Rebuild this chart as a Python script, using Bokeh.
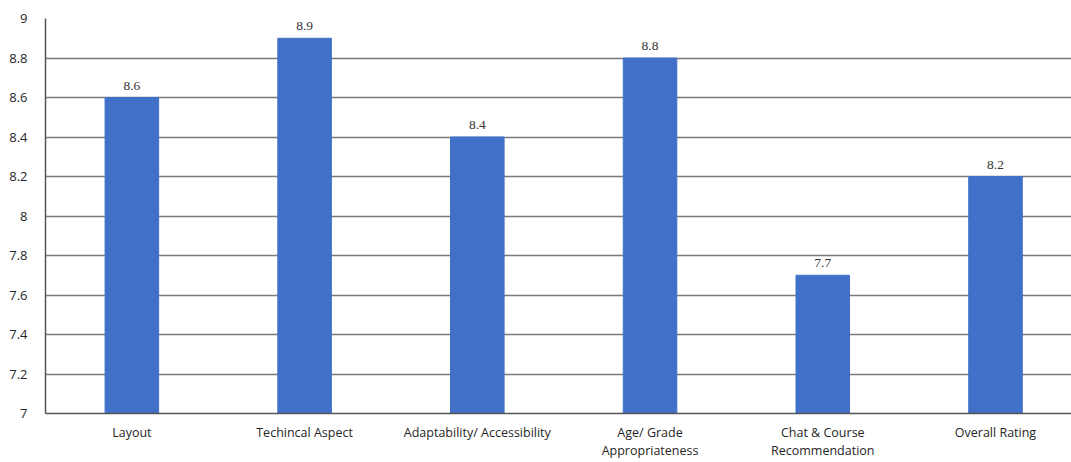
from bokeh.plotting import figure
from bokeh.models import Range1d, FixedTicker, ColumnDataSource, LabelSet
from bokeh.embed import file_html
from bokeh.resources import INLINE

categories = ["Layout", "Techincal Aspect", "Adaptability/ Accessibility",
              "Age/ Grade\nAppropriateness", "Chat & Course\nRecommendation", "Overall Rating"]
values = [8.6, 8.9, 8.4, 8.8, 7.7, 8.2]
y_ticks = [7, 7.2, 7.4, 7.6, 7.8, 8, 8.2, 8.4, 8.6, 8.8, 9]

xs = [i + 0.5 for i in range(len(categories))]
src = ColumnDataSource(dict(x=xs, top=values, lab=[str(v) for v in values]))

p = figure(width=1071, height=462, output_backend="svg", toolbar_location=None,
           x_range=Range1d(0, 5.94), y_range=Range1d(7, 9))
p.min_border_left = 45
p.min_border_right = 0
p.min_border_top = 18
p.min_border_bottom = 48
p.outline_line_color = None

p.vbar(x="x", top="top", bottom=7, width=0.31, source=src, color="#4070C8")

labels = LabelSet(x="x", y="top", text="lab", source=src, text_align="center",
                  text_baseline="bottom", y_offset=8, text_font_size="13.5px",
                  text_color="#333333", text_font="Open Sans")
p.add_layout(labels)

p.xaxis.ticker = FixedTicker(ticks=xs)
p.xaxis.major_label_overrides = {x: c for x, c in zip(xs, categories)}
p.xaxis.major_tick_line_color = None
p.xaxis.minor_tick_line_color = None
p.xaxis.axis_line_color = "#555555"
p.xaxis.axis_line_width = 1.5
p.xaxis.major_label_text_font = "Open Sans"
p.xaxis.major_label_text_font_size = "12.5px"
p.xaxis.major_label_text_color = "#262626"
p.xaxis.major_label_text_line_height = 1.1
p.xaxis.major_label_standoff = 4

p.yaxis.ticker = FixedTicker(ticks=y_ticks)
p.yaxis.major_label_overrides = {t: (str(int(t)) if t == int(t) else str(t)) for t in y_ticks}
p.yaxis.major_tick_line_color = None
p.yaxis.minor_tick_line_color = None
p.yaxis.axis_line_color = "#555555"
p.yaxis.axis_line_width = 1.5
p.yaxis.major_label_text_font = "Open Sans"
p.yaxis.major_label_text_font_size = "13px"
p.yaxis.major_label_text_color = "#262626"
p.yaxis.major_label_standoff = 12

p.xgrid.grid_line_color = None
p.ygrid.grid_line_color = "#7a7a7a"
p.ygrid.grid_line_width = 1.3
p.ygrid.ticker = FixedTicker(ticks=y_ticks)

open("out.html", "w").write(file_html(p, INLINE))
